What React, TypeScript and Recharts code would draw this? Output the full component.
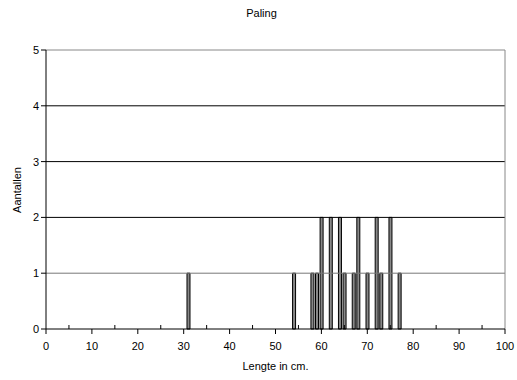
import { Bar, BarChart, ReferenceLine, XAxis, YAxis } from "recharts";

const lengths = [31, 54, 58, 59, 60, 62, 64, 65, 67, 68, 70, 72, 73, 75, 77];
const counts = [1, 1, 1, 1, 2, 2, 2, 1, 1, 2, 1, 2, 1, 2, 1];
const xTicks = [0, 5, 10, 15, 20, 25, 30, 35, 40, 45, 50, 55, 60, 65, 70, 75, 80, 85, 90, 95, 100];
const yTicks = [0, 1, 2, 3, 4, 5];

const FONT = "'Liberation Sans', Arial, sans-serif";

// major ticks (every 10) point down with a label, minor ticks (every 5) point up
function XTick(props: any) {
  const { x, y, payload } = props;
  const major = payload.value % 10 === 0;
  return (
    <g>
      {major ? (
        <>
          <line x1={x} x2={x} y1={y} y2={y + 5} stroke="#000" />
          <text x={x} y={y + 21} textAnchor="middle" fontSize={11} fontFamily={FONT} fill="#000">
            {payload.value}
          </text>
        </>
      ) : (
        <line x1={x} x2={x} y1={y - 4} y2={y} stroke="#000" />
      )}
    </g>
  );
}

export default function App() {
  const data = lengths.map((l, i) => ({ length: l, count: counts[i] }));

  return (
    <div style={{ position: "absolute", left: 0, top: 0, width: 517, height: 380, background: "#fff", fontFamily: FONT }}>
      <div style={{ position: "absolute", left: 0, width: 523, top: 7, textAlign: "center", fontSize: 11 }}>Paling</div>
      <div
        style={{
          position: "absolute",
          left: 17,
          top: 190,
          transform: "translate(-50%, -50%) rotate(-90deg)",
          fontSize: 11,
          whiteSpace: "nowrap",
        }}
      >
        Aantallen
      </div>
      <div style={{ position: "absolute", left: 46, width: 459, top: 360, textAlign: "center", fontSize: 11 }}>
        Lengte in cm.
      </div>
      <BarChart
        width={517}
        height={380}
        data={data}
        margin={{ top: 50, right: 12, left: 0, bottom: 0 }}
        barSize={3}
      >
        <XAxis
          dataKey="length"
          type="number"
          domain={[0, 100]}
          ticks={xTicks}
          interval={0}
          height={51}
          axisLine={{ stroke: "#000" }}
          tickLine={false}
          tickSize={0}
          tickMargin={0}
          tick={<XTick />}
        />
        <YAxis
          type="number"
          domain={[0, 5]}
          ticks={yTicks}
          width={46}
          axisLine={{ stroke: "#000" }}
          tickLine={{ stroke: "#000" }}
          tickSize={5}
          tick={{ fontSize: 11, fill: "#000", fontFamily: FONT }}
        />
        <ReferenceLine y={1} stroke="#777" />
        <ReferenceLine y={2} stroke="#000" />
        <ReferenceLine y={3} stroke="#000" />
        <ReferenceLine y={4} stroke="#000" />
        <ReferenceLine y={5} stroke="#888" />
        <ReferenceLine x={100} stroke="#888" />
        <Bar dataKey="count" fill="#888" stroke="#000" strokeWidth={1} isAnimationActive={false} />
      </BarChart>
    </div>
  );
}
